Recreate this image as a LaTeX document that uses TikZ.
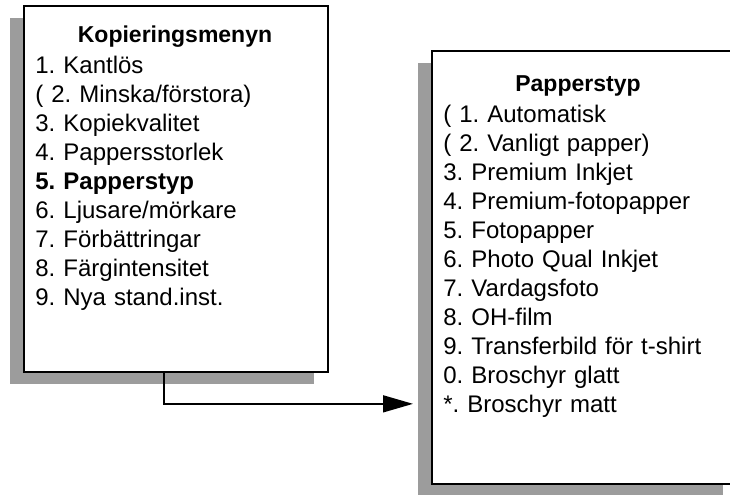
\documentclass[tikz,border=0pt]{standalone}
\usepackage{fontspec}
\setmainfont{Liberation Sans}
\usetikzlibrary{shadows,arrows.meta}
\colorlet{mygray}{black!39}
\frenchspacing

\begin{document}
\begin{tikzpicture}[x=0.5pt,y=-0.5pt]
\useasboundingbox (0,0) rectangle (730,494);
\clip (0,0) rectangle (730,494);
\tikzset{MenuStyle/.style ={draw, line width=0.85pt, fill=white, anchor=north west, inner sep=0,
  drop shadow={shadow xshift=-6.75pt, shadow yshift=-6pt, fill=mygray, opacity=1}}}
\tikzset{TitleStyle/.style ={anchor=base, inner sep=0, font=\fontsize{11.5}{13}\selectfont\bfseries}}
\tikzset{ListStyle/.style ={anchor=base west, inner sep=0, text width=140pt, align=left,
  font=\fontsize{12}{14.5}\selectfont}}
% copy menu
\node[MenuStyle, minimum width=152pt, minimum height=183pt] (meny) at (23,5) {};
\node[TitleStyle] (menytitel) at (175,42) {Kopieringsmenyn};
\node[ListStyle] (menylista) at (35,73) {1. Kantlös\\
( 2. Minska/förstora)\\
3. Kopiekvalitet\\
4. Pappersstorlek\\
\textbf{5. Papperstyp}\\
6. Ljusare/mörkare\\
7. Förbättringar\\
8. Färgintensitet\\
9. Nya stand.inst.};
% paper type submenu
\node[MenuStyle, minimum width=152.5pt, minimum height=216.5pt] (typ) at (431,50) {};
\node[TitleStyle] (typtitel) at (578,91) {Papperstyp};
\node[ListStyle] (typlista) at (443,122) {( 1. Automatisk\\
( 2. Vanligt papper)\\
3. Premium Inkjet\\
4. Premium-fotopapper\\
5. Fotopapper\\
6. Photo Qual Inkjet\\
7. Vardagsfoto\\
8. OH-film\\
9. Transferbild för t-shirt\\
0. Broschyr glatt\\
{*}. Broschyr matt};
\tikzset{EdgeStyle/.style ={-{Triangle[length=15pt,width=8.5pt]}, line width=0.75pt}}
\draw[EdgeStyle] ([xshift=70.5pt]meny.south west) |- ([xshift=-9pt,yshift=-68.25pt]typ.west);
\end{tikzpicture}
\end{document}
